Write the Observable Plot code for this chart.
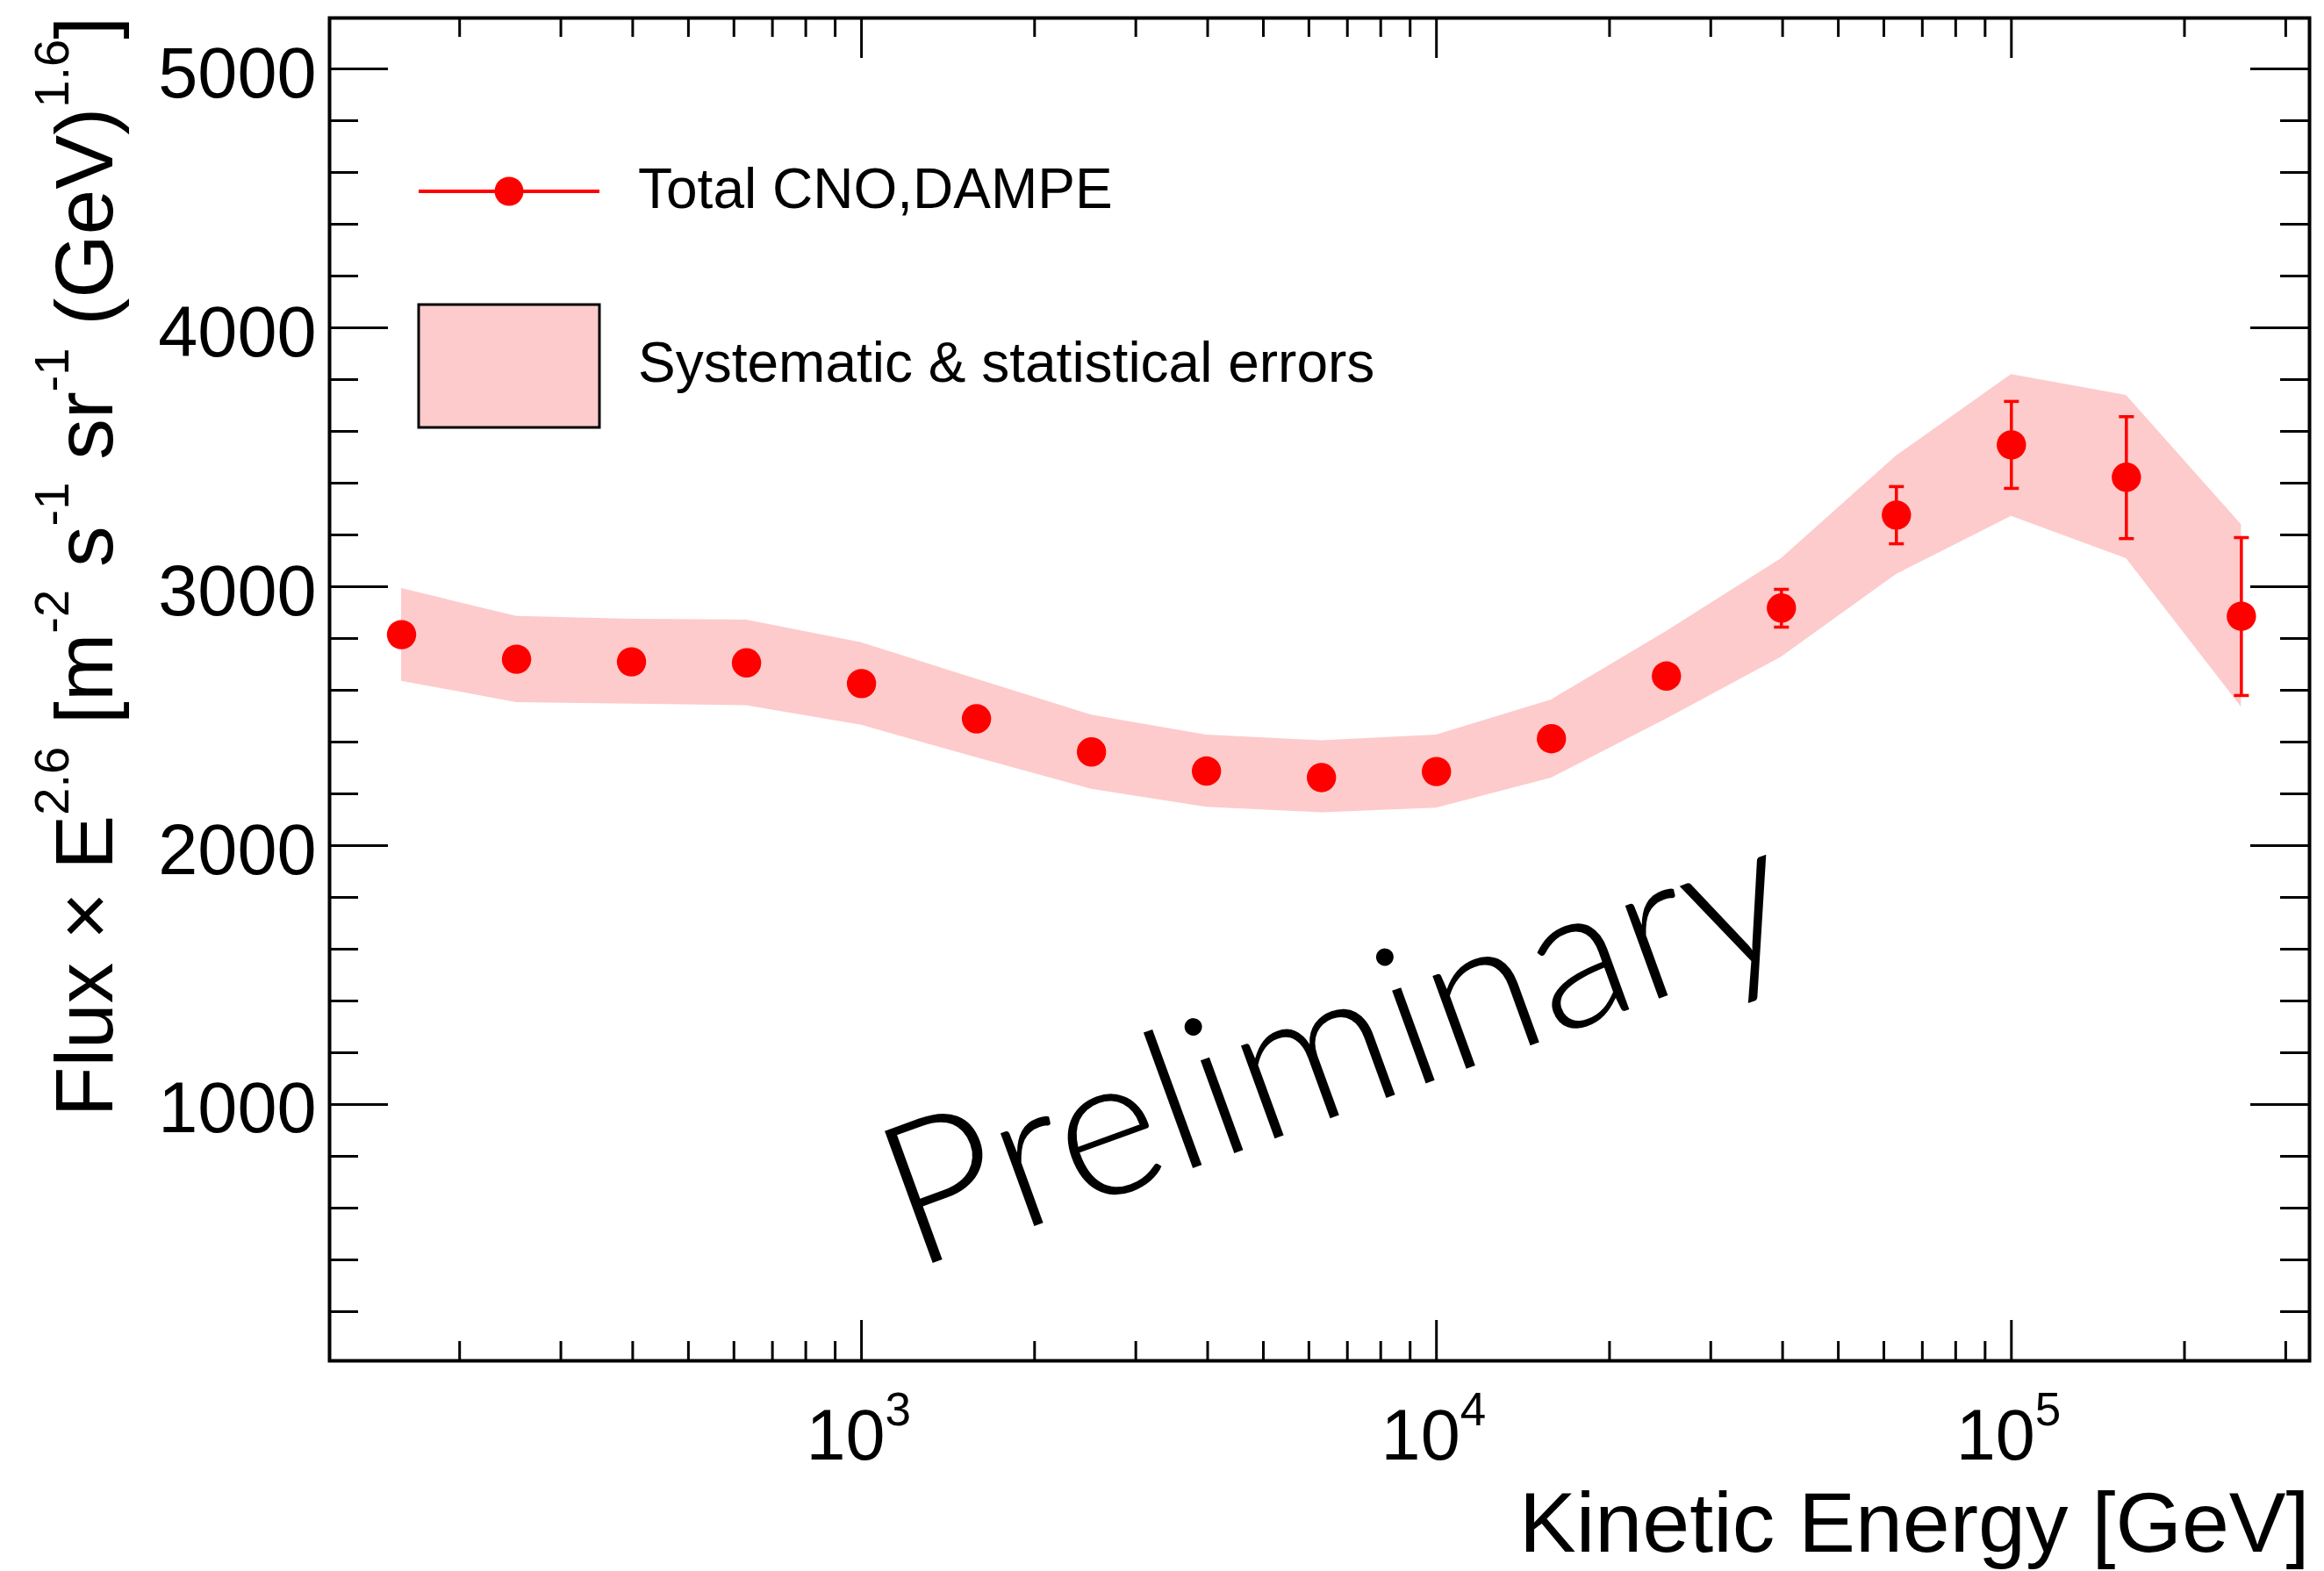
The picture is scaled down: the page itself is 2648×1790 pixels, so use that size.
<!DOCTYPE html>
<html><head><meta charset="utf-8">
<script src="https://cdn.jsdelivr.net/npm/d3@7"></script>
<script src="https://cdn.jsdelivr.net/npm/@observablehq/plot@0.6"></script>
<style>html,body{margin:0;padding:0;background:#fff;} svg{display:block;}</style>
</head><body><div id="chart"></div>
<script>
// ---- data ----
const energy   = [158.5, 251.2, 398.1, 631.0, 1000, 1584.9, 2511.9, 3981.1, 6309.6, 10000, 15848.9, 25118.9, 39810.7, 63095.7, 100000, 158489.3, 251188.6];
const flux     = [2815, 2720, 2710, 2706, 2626, 2490, 2362, 2288, 2263, 2286, 2413, 2655, 2918, 3277, 3548, 3423, 2886];
const bandLow  = [2635, 2553, 2547, 2541, 2465, 2340, 2218, 2148, 2127, 2145, 2261, 2489, 2728, 3048, 3272, 3109, 2535];
const bandHigh = [2993, 2886, 2875, 2871, 2784, 2643, 2504, 2427, 2405, 2427, 2563, 2827, 3109, 3505, 3820, 3739, 3240];
const errLow   = [null, null, null, null, null, null, null, null, null, null, null, null, 2844, 3166, 3380, 3186, 2580];
const errHigh  = [null, null, null, null, null, null, null, null, null, null, null, null, 2990, 3387, 3716, 3657, 3190];

const yMajorTicks = [1000, 2000, 3000, 4000, 5000];
const yMinorTicks = [200, 400, 600, 800, 1200, 1400, 1600, 1800, 2200, 2400, 2600, 2800, 3200, 3400, 3600, 3800, 4200, 4400, 4600, 4800];
const xMajorTicks = [1000, 10000, 100000];
const xMinorTicks = [200, 300, 400, 500, 600, 700, 800, 900, 2000, 3000, 4000, 5000, 6000, 7000, 8000, 9000,
                     20000, 30000, 40000, 50000, 60000, 70000, 80000, 90000, 200000, 300000];
const xTickBase = ["10", "10", "10"];
const xTickExponent = ["3", "4", "5"];

const xTitle = "Kinetic Energy [GeV]";
const yTitleParts = [["Flux × E", false], ["2.6", true], [" [m", false], ["-2", true], [" s", false], ["-1", true],
                     [" sr", false], ["-1", true], [" (GeV)", false], ["1.6", true], ["]", false]];
const legendLabels = ["Total CNO,DAMPE", "Systematic & statistical errors"];
const watermark = ["Preliminary"];

// ---- layout ----
const W = 2648, H = 1790;
const mL = 375, mR = 17, mT = 20, mB = 240;
const plotW = W - mL - mR, plotH = H - mT - mB;
const FONT = "'Liberation Sans', Arial, Helvetica, sans-serif";
const RED = "#ff0000", BAND = "#fdcbcb";

const rows = energy.map((e, i) => ({e, f: flux[i], lo: bandLow[i], hi: bandHigh[i], el: errLow[i], eh: errHigh[i]}));
const errRows = rows.filter(d => d.el != null);
const capSymbol = {draw(ctx) { ctx.moveTo(-8.5, 0); ctx.lineTo(8.5, 0); }};
const xt = xMajorTicks.map((v, i) => ({v, b: xTickBase[i], p: xTickExponent[i]}));

const chart = Plot.plot({
  width: W, height: H,
  marginLeft: mL, marginRight: mR, marginTop: mT, marginBottom: mB,
  style: {fontFamily: FONT, background: "#fff", color: "#000"},
  x: {type: "log", domain: [118.8, 330000], axis: null},
  y: {type: "linear", domain: [10, 5197], axis: null},
  marks: [
    Plot.areaY(rows, {x: "e", y1: "lo", y2: "hi", fill: BAND, curve: "linear"}),
    Plot.ruleX(errRows, {x: "e", y1: "el", y2: "eh", stroke: RED, strokeWidth: 3.5}),
    Plot.dot(errRows, {x: "e", y: "el", symbol: capSymbol, stroke: RED, strokeWidth: 3.5, fill: "none", r: 1}),
    Plot.dot(errRows, {x: "e", y: "eh", symbol: capSymbol, stroke: RED, strokeWidth: 3.5, fill: "none", r: 1}),
    Plot.dot(rows, {x: "e", y: "f", r: 16.7, fill: RED, stroke: "none"}),
    // ticks (inward, mirrored)
    Plot.tickX(xMajorTicks, {x: d => d, insetTop: plotH - 46, stroke: "#000", strokeWidth: 3}),
    Plot.tickX(xMinorTicks, {x: d => d, insetTop: plotH - 22, stroke: "#000", strokeWidth: 3}),
    Plot.tickX(xMajorTicks, {x: d => d, insetBottom: plotH - 46, stroke: "#000", strokeWidth: 3}),
    Plot.tickX(xMinorTicks, {x: d => d, insetBottom: plotH - 22, stroke: "#000", strokeWidth: 3}),
    Plot.tickY(yMajorTicks, {y: d => d, insetRight: plotW - 67, stroke: "#000", strokeWidth: 3}),
    Plot.tickY(yMinorTicks, {y: d => d, insetRight: plotW - 33, stroke: "#000", strokeWidth: 3}),
    Plot.tickY(yMajorTicks, {y: d => d, insetLeft: plotW - 67, stroke: "#000", strokeWidth: 3}),
    Plot.tickY(yMinorTicks, {y: d => d, insetLeft: plotW - 33, stroke: "#000", strokeWidth: 3}),
    Plot.frame({stroke: "#000", strokeWidth: 4}),
    // tick labels
    Plot.text(yMajorTicks, {y: d => d, text: d => String(d), frameAnchor: "left", textAnchor: "end", lineAnchor: "bottom", dx: -15, dy: 32, fontSize: 81, fill: "#000"}),
    Plot.text(xt, {x: "v", text: "b", frameAnchor: "bottom", textAnchor: "end", lineAnchor: "bottom", dx: 27, dy: 112, fontSize: 81, fill: "#000"}),
    Plot.text(xt, {x: "v", text: "p", frameAnchor: "bottom", textAnchor: "start", lineAnchor: "bottom", dx: 27, dy: 73, fontSize: 53, fill: "#000"}),
    // x title
    Plot.text([xTitle], {text: d => d, frameAnchor: "bottom-right", textAnchor: "end", lineAnchor: "bottom", dy: 217, fontSize: 97, fill: "#000"}),
    // watermark
    Plot.text(watermark, {text: d => d, frameAnchor: "top-left", dx: 1172, dy: 1242, rotate: -20, textAnchor: "middle", lineAnchor: "bottom",
      fontSize: 226, fontFamily: "Lato, 'Open Sans', sans-serif", fontWeight: 300, fill: "#000"})
  ]
});

const svg = d3.select(chart);
// y title with superscripts
const yt = svg.append("text")
  .attr("transform", "translate(128,19) rotate(-90)")
  .attr("text-anchor", "end")
  .attr("font-family", FONT)
  .attr("font-size", 93)
  .attr("fill", "#000");
let raised = false;
for (const [s, sup] of yTitleParts) {
  const t = yt.append("tspan").text(s);
  if (sup) { t.attr("font-size", 56); if (!raised) { t.attr("dy", -50); raised = true; } }
  else if (raised) { t.attr("dy", 50); raised = false; }
}
// legend
const lg = svg.append("g").attr("text-anchor", "start");
lg.append("line").attr("x1", 477).attr("x2", 683).attr("y1", 218).attr("y2", 218).attr("stroke", RED).attr("stroke-width", 4);
lg.append("circle").attr("cx", 580).attr("cy", 218).attr("r", 16.5).attr("fill", RED);
lg.append("text").attr("x", 727).attr("y", 237).attr("text-anchor", "start").attr("font-family", FONT).attr("font-size", 64).attr("fill", "#000").text(legendLabels[0]);
lg.append("rect").attr("x", 477).attr("y", 347).attr("width", 206).attr("height", 140).attr("fill", BAND).attr("stroke", "#000").attr("stroke-width", 3);
lg.append("text").attr("x", 727).attr("y", 435).attr("text-anchor", "start").attr("font-family", FONT).attr("font-size", 64).attr("fill", "#000").text(legendLabels[1]);

document.getElementById("chart").appendChild(chart);
</script>
</body></html>
